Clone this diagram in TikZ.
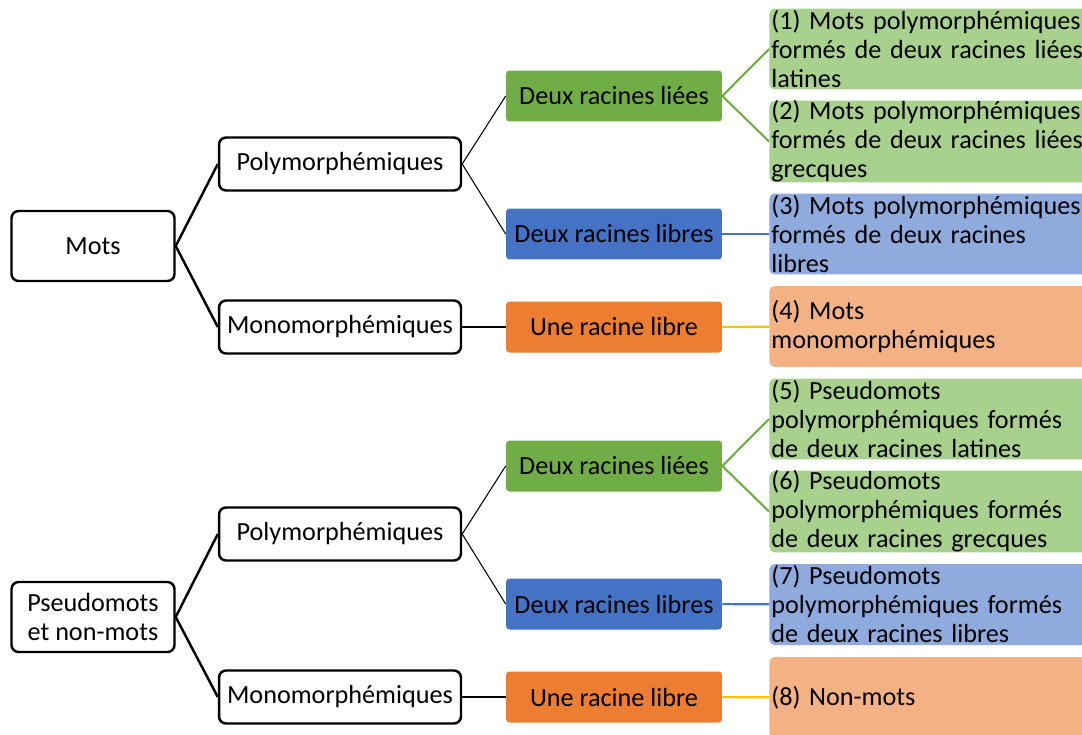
\documentclass[tikz,border=0pt]{standalone}
\usepackage{fontspec}
\setmainfont{Carlito}

\definecolor{vert}{HTML}{70AD47}
\definecolor{bleu}{HTML}{4472C4}
\definecolor{orange}{HTML}{ED7D31}
\definecolor{vertclair}{HTML}{A9D18E}
\definecolor{bleuclair}{HTML}{8FAADC}
\definecolor{orangeclair}{HTML}{F4B183}
\definecolor{jaune}{HTML}{FFC000}

\tikzset{
  texte/.style={font=\fontsize{14.9}{16.5}\selectfont},
  racinebox/.style={texte, draw=black, line width=1.4pt, rounded corners=4pt, minimum width=3.26cm, minimum height=1.4cm, align=center},
  morphobox/.style={texte, draw=black, line width=1.4pt, rounded corners=4pt, minimum width=4.84cm, minimum height=1.06cm, inner sep=0pt},
  typebox/.style={texte, rounded corners=2pt, minimum width=4.32cm, minimum height=1.02cm, inner sep=0pt},
  feuille/.style={texte, anchor=west, rounded corners=3pt, text width=6.6cm, align=left, minimum height=1.62cm, inner xsep=0.04cm, inner ysep=0pt},
  gros/.style={line width=1.4pt},
  fin/.style={line width=0.6pt},
}

\begin{document}
\begin{tikzpicture}[x=0.02cm, y=-0.02cm]
 \clip (0,0) rectangle (1082,734);
 % haut : mots
 \node[racinebox] (mots) at (93,246) {Mots};
 \node[morphobox] (poly1) at (340,164) {Polymorphémiques};
 \node[morphobox] (mono1) at (340,327) {Monomorphémiques};
 \node[typebox, fill=vert] (liees1) at (614,96) {Deux racines liées};
 \node[typebox, fill=bleu] (libres1) at (614,234) {Deux racines libres};
 \node[typebox, fill=orange] (une1) at (614,327) {Une racine libre};
 \node[feuille, fill=vertclair] (f1) at (769,49) {(1) Mots polymorphémiques\\formés de deux racines liées\\latines};
 \node[feuille, fill=vertclair] (f2) at (769,141.5) {(2) Mots polymorphémiques\\formés de deux racines liées\\grecques};
 \node[feuille, fill=bleuclair] (f3) at (769,234) {(3) Mots polymorphémiques\\formés de deux racines\\libres};
 \node[feuille, fill=orangeclair] (f4) at (769,326.5) {(4) Mots\\monomorphémiques};
 % bas : pseudomots
 \node[racinebox] (pseudo) at (93,617) {Pseudomots\\et non-mots};
 \node[morphobox] (poly2) at (340,534) {Polymorphémiques};
 \node[morphobox] (mono2) at (340,697) {Monomorphémiques};
 \node[typebox, fill=vert] (liees2) at (614,466) {Deux racines liées};
 \node[typebox, fill=bleu] (libres2) at (614,604) {Deux racines libres};
 \node[typebox, fill=orange] (une2) at (614,697) {Une racine libre};
 \node[feuille, fill=vertclair] (f5) at (769,419) {(5) Pseudomots\\polymorphémiques formés\\de deux racines latines};
 \node[feuille, fill=vertclair] (f6) at (769,511.5) {(6) Pseudomots\\polymorphémiques formés\\de deux racines grecques};
 \node[feuille, fill=bleuclair] (f7) at (769,604.5) {(7) Pseudomots\\polymorphémiques formés\\de deux racines libres};
 \node[feuille, fill=orangeclair] (f8) at (769,697.5) {(8) Non-mots};

 \draw[gros] (poly1.west) -- (mots.east) -- (mono1.west);
 \draw[gros] (poly2.west) -- (pseudo.east) -- (mono2.west);
 \draw[fin] (liees1.west) -- (poly1.east) -- (libres1.west);
 \draw[fin] (liees2.west) -- (poly2.east) -- (libres2.west);
 \draw[fin] (mono1) -- (une1);
 \draw[fin] (mono2) -- (une2);
 \draw[vert, line width=1.2pt] (f1.west) -- (liees1.east) -- (f2.west);
 \draw[vert, line width=1.2pt] (f5.west) -- (liees2.east) -- (f6.west);
 \draw[bleu, line width=1.2pt] (libres1) -- (f3);
 \draw[bleu, line width=1.2pt] (libres2) -- (f7);
 \draw[jaune, line width=1.2pt] (une1) -- (f4);
 \draw[jaune, line width=1.2pt] (une2) -- (f8);
\end{tikzpicture}
\end{document}
